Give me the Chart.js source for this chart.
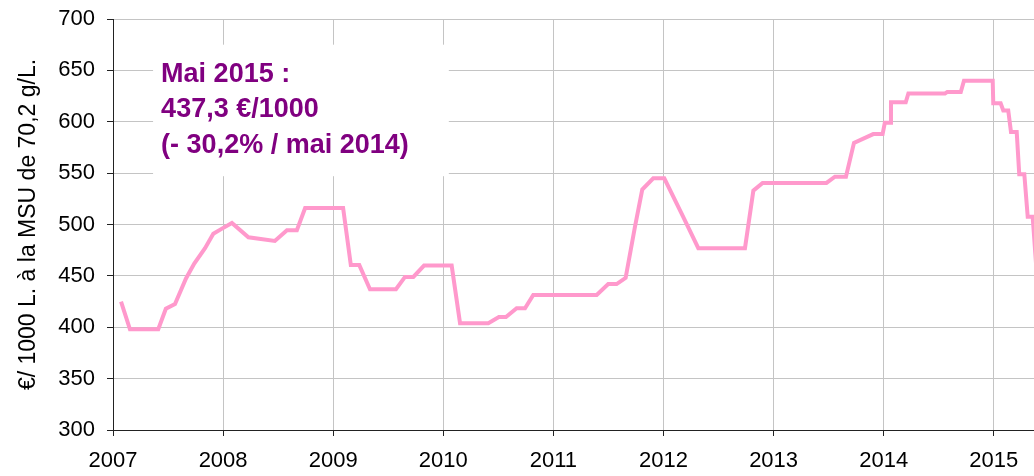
<!DOCTYPE html>
<html>
<head>
<meta charset="utf-8">
<script src="https://cdn.jsdelivr.net/npm/chart.js@4.4.0/dist/chart.umd.min.js"></script>
<style>
  html, body { margin: 0; padding: 0; background: #fff; }
</style>
</head>
<body>
<canvas id="chart" width="1034" height="476"></canvas>
<script>
// decimal year of each reading, and price in €/1000 L
const years = [
  2007.073, 2007.154, 2007.411, 2007.48, 2007.563, 2007.663, 2007.738, 2007.836, 2007.911, 2007.99,
  2008.08, 2008.23, 2008.47, 2008.58, 2008.67, 2008.745, 2009.09, 2009.16, 2009.237, 2009.334,
  2009.57, 2009.652, 2009.728, 2009.825, 2010.076, 2010.152, 2010.409, 2010.505, 2010.569, 2010.666,
  2010.742, 2010.817, 2011.393, 2011.498, 2011.574, 2011.656, 2011.741, 2011.807, 2011.907, 2012.007,
  2012.179, 2012.316, 2012.74, 2012.816, 2012.9, 2013.48, 2013.557, 2013.657, 2013.73, 2013.905,
  2013.99, 2014.01, 2014.063, 2014.066, 2014.2, 2014.224, 2014.557, 2014.578, 2014.70, 2014.729,
  2014.99, 2014.995, 2015.062, 2015.086, 2015.131, 2015.156, 2015.208, 2015.231, 2015.277, 2015.308,
  2015.353, 2015.4
];
const prices = [
  425, 398, 398, 418, 422.5, 447.5, 462, 477, 491, 496,
  501.5, 487.5, 484, 494.5, 494.5, 516, 516, 460.5, 460.5, 437,
  437, 449, 449, 460, 460, 404, 404, 410, 410, 418.5,
  418.5, 431.5, 431.5, 442, 442, 448, 498, 534, 545, 545,
  507.5, 477, 477, 533, 540.5, 540.5, 546.5, 546.5, 579.5, 588,
  588, 599, 599, 619, 619, 627.5, 627.5, 629, 629, 640,
  640, 618, 618, 611, 611, 590, 590, 549, 549, 507.5,
  507.5, 437.3
];

const yearMin = 2007;
const yearMax = 2015.365;   // picture is cut just after April 2015
const priceMin = 300;
const priceMax = 700;
const priceStep = 50;

const yTitle = '€/ 1000 L. à la MSU de 70,2 g/L.';
const noteLines = ['Mai 2015 :', '437,3 €/1000', '(- 30,2% / mai 2014)'];

const FONT = "'Liberation Sans', Arial, sans-serif";
const GRID = '#c4c4c4';
const AXIS = '#222';

// white text box with the latest figure, over the grid
const notePlugin = {
  id: 'note',
  beforeDatasetsDraw(chart) {
    const { ctx, scales: { x, y } } = chart;
    const left = x.getPixelForValue(2007.364);
    const right = x.getPixelForValue(2010.05);
    const top = y.getPixelForValue(675);
    const bottom = y.getPixelForValue(547);
    ctx.save();
    ctx.fillStyle = '#fff';
    ctx.fillRect(left, top, right - left, bottom - top);
    ctx.fillStyle = '#800080';
    ctx.font = 'bold 27px ' + FONT;
    ctx.textBaseline = 'alphabetic';
    const tx = x.getPixelForValue(2007.437);
    const baselines = [639, 605, 569.5];
    noteLines.forEach((line, i) => {
      ctx.fillText(line, tx, y.getPixelForValue(baselines[i]));
    });
    ctx.restore();
  }
};

new Chart(document.getElementById('chart'), {
  type: 'line',
  data: {
    datasets: [{
      data: years.map((yr, i) => ({ x: yr, y: prices[i] })),
      borderColor: '#ff99cc',
      borderWidth: 4,
      pointRadius: 0,
      tension: 0,
      fill: false
    }]
  },
  options: {
    responsive: false,
    animation: false,
    layout: { padding: { top: 19, right: 0, bottom: 0, left: 0 } },
    plugins: {
      legend: { display: false },
      tooltip: { enabled: false }
    },
    scales: {
      x: {
        type: 'linear',
        min: yearMin,
        max: yearMax,
        grid: { color: GRID, lineWidth: 1, tickLength: 6, tickColor: AXIS },
        border: { display: true, color: AXIS, width: 1 },
        ticks: {
          stepSize: 1,
          includeBounds: false,
          autoSkip: false,
          maxRotation: 0,
          padding: 12,
          color: '#000',
          font: { family: FONT, size: 22 },
          callback: v => String(v)
        },
        afterFit: s => { s.height = 46; }
      },
      y: {
        min: priceMin,
        max: priceMax,
        grid: { color: GRID, lineWidth: 1, tickLength: 6, tickColor: AXIS },
        border: { display: true, color: AXIS, width: 1 },
        ticks: {
          stepSize: priceStep,
          padding: 12,
          color: '#000',
          font: { family: FONT, size: 22 }
        },
        title: {
          display: true,
          text: yTitle,
          color: '#000',
          font: { family: FONT, size: 23 },
          padding: { top: 15, bottom: 0 }
        },
        afterFit: s => {
          s.width = 113;
          s.paddingTop = 0;
          s.paddingBottom = 0;
        }
      }
    }
  },
  plugins: [notePlugin]
});
</script>
</body>
</html>
